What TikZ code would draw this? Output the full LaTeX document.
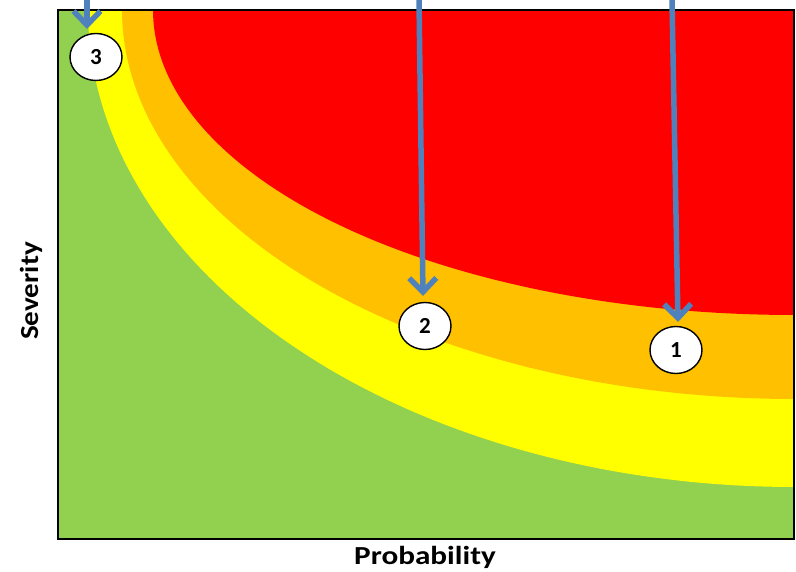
\documentclass[tikz,border=0pt]{standalone}
\usepackage{fontspec}
\setmainfont{Carlito}
\usetikzlibrary{arrows.meta,shapes.geometric}
\definecolor{zgreen}{HTML}{92D050}
\definecolor{zyellow}{HTML}{FFFF00}
\definecolor{zorange}{HTML}{FFC000}
\definecolor{zred}{HTML}{FF0000}
\definecolor{arrblue}{HTML}{4F81BD}
\tikzset{
  marker/.style={ellipse, draw=black, line width=1.4pt, fill=white,
    minimum width=52pt, minimum height=47pt, inner sep=0pt,
    font=\bfseries\fontsize{23}{23}\selectfont},
  arr/.style={arrblue, line width=5.5pt,
    -{Straight Barb[length=14pt,width=27pt]}},
  axislabel/.style={font=\bfseries\fontsize{26}{26}\selectfont, inner sep=0pt}
}
\begin{document}
\begin{tikzpicture}[x=1pt,y=-1pt]
\useasboundingbox (0,0) rectangle (796,572);
% zones
\fill[zgreen] (58,10) rectangle (794,539);
\fill[zyellow] (794,10) -- plot[domain=0:90,samples=80,smooth] ({794-706*cos(\x)},{10+477*sin(\x)}) -- cycle;
\fill[zorange] (794,10) -- plot[domain=0:90,samples=80,smooth] ({794-672*cos(\x)},{10+389*sin(\x)}) -- cycle;
\fill[zred] (794,10) -- plot[domain=0:90,samples=80,smooth] ({794-641*cos(\x)},{10+305*sin(\x)}) -- cycle;
\draw[black, line width=1.3pt] (58,10) rectangle (794,539);
% markers
\node[marker] (c3) at (96,57) {3};
\node[marker] (c2) at (425,326) {2};
\node[marker] (c1) at (676,350) {1};
% arrow starts
\coordinate (t3) at (87,0);
\coordinate (t2) at (419,0);
\coordinate (t1) at (672,0);
\coordinate (e3) at (87,29);
\coordinate (e2) at (423,296);
\coordinate (e1) at (678,322);
\draw[arr] (t3) -- (e3);
\draw[arr] (t2) -- (e2);
\draw[arr] (t1) -- (e1);
% axis labels
\node[axislabel, rotate=90] (sev) at (31,291) {\scalebox{1.12}[1]{Severity}};
\node[axislabel] (prob) at (425,557) {\scalebox{1.2}[1]{Probability}};
\end{tikzpicture}
\end{document}
